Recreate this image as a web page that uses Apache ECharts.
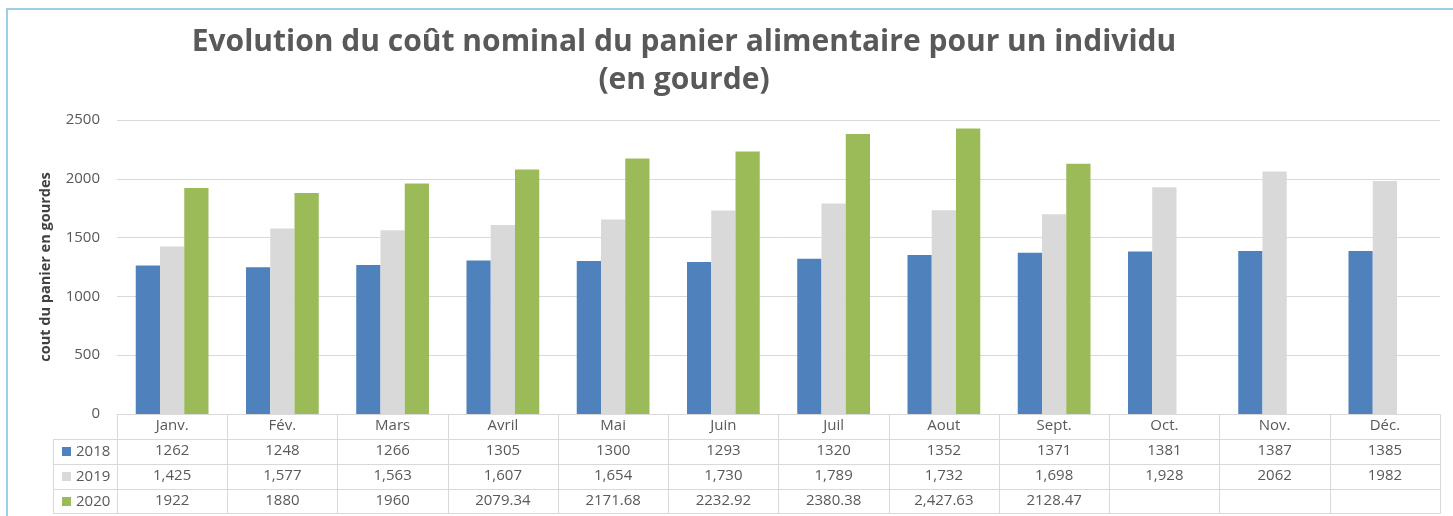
<!DOCTYPE html>
<html>
<head>
<meta charset="utf-8">
<script src="https://cdn.jsdelivr.net/npm/echarts@6/dist/echarts.min.js"></script>
<style>
  html, body { margin: 0; padding: 0; background: #fff; }
  #chart-container { width: 1453px; height: 516px; }
</style>
</head>
<body>
<div id="chart-container"></div>
<script>
var months = ['Janv.', 'Fév.', 'Mars', 'Avril', 'Mai', 'Juin', 'Juil', 'Aout', 'Sept.', 'Oct.', 'Nov.', 'Déc.'];
var years = ['2018', '2019', '2020'];
var values2018 = [1262, 1248, 1266, 1305, 1300, 1293, 1320, 1352, 1371, 1381, 1387, 1385];
var values2019 = [1425, 1577, 1563, 1607, 1654, 1730, 1789, 1732, 1698, 1928, 2062, 1982];
var values2020 = [1922, 1880, 1960, 2079.34, 2171.68, 2232.92, 2380.38, 2427.63, 2128.47, null, null, null];
// texts shown in the data table under the chart (as written in the source)
var table2018 = ['1262', '1248', '1266', '1305', '1300', '1293', '1320', '1352', '1371', '1381', '1387', '1385'];
var table2019 = ['1,425', '1,577', '1,563', '1,607', '1,654', '1,730', '1,789', '1,732', '1,698', '1,928', '2062', '1982'];
var table2020 = ['1922', '1880', '1960', '2079.34', '2171.68', '2232.92', '2380.38', '2,427.63', '2128.47', '', '', ''];

var colors = ['#4F81BD', '#D9D9D9', '#9BBB59'];
var gridCol = '#D9D9D9';
var txt = '#595959';
var font = 'Open Sans';
var rowH = 25;
var tableTop = 414;

var dom = document.getElementById('chart-container');
var myChart = echarts.init(dom, null, { renderer: 'canvas' });

// one x axis per table row, stacked under the plot with offsets
function tableAxis(data, offset, showLabel) {
  return {
    type: 'category',
    data: data,
    position: 'bottom',
    offset: offset,
    axisLine: { show: true, lineStyle: { color: gridCol, width: 1 } },
    axisTick: { show: showLabel, length: rowH, lineStyle: { color: gridCol, width: 1 } },
    axisLabel: { show: showLabel, interval: 0, margin: 4, color: txt, fontSize: 15, fontFamily: font },
    splitLine: { show: false }
  };
}

// legend column of the data table (swatch + year in each row)
var legendCells = [];
years.forEach(function (y, i) {
  var rowY = tableTop + rowH * (i + 1);
  legendCells.push({ type: 'rect', shape: { x: 62, y: rowY + 8, width: 9, height: 9 }, style: { fill: colors[i] }, silent: true });
  legendCells.push({ type: 'text', x: 76, y: rowY + 12.5, style: { text: y, fill: txt, font: '15px "' + font + '"', textVerticalAlign: 'middle' }, silent: true });
  legendCells.push({ type: 'line', shape: { x1: 53, y1: rowY + 0.5, x2: 117, y2: rowY + 0.5 }, style: { stroke: gridCol, lineWidth: 1 }, silent: true });
});
legendCells.push({ type: 'line', shape: { x1: 53, y1: tableTop + rowH * 4 - 0.5, x2: 117, y2: tableTop + rowH * 4 - 0.5 }, style: { stroke: gridCol, lineWidth: 1 }, silent: true });
legendCells.push({ type: 'line', shape: { x1: 53.5, y1: tableTop + rowH, x2: 53.5, y2: tableTop + rowH * 4 }, style: { stroke: gridCol, lineWidth: 1 }, silent: true });

var option = {
  animation: false,
  color: colors,
  title: {
    text: 'Evolution du coût nominal du panier alimentaire pour un individu\n(en gourde)',
    left: 679,
    top: 18,
    textAlign: 'center',
    textStyle: { fontSize: 30, fontWeight: 'bold', color: txt, fontFamily: font, lineHeight: 38 }
  },
  grid: { left: 117, right: 13, top: 120, bottom: 102, containLabel: false },
  xAxis: [
    tableAxis(months, 0, true),
    tableAxis(table2018, rowH, true),
    tableAxis(table2019, rowH * 2, true),
    tableAxis(table2020, rowH * 3, true),
    tableAxis(months, rowH * 4 - 1, false)
  ],
  yAxis: {
    type: 'value',
    min: 0,
    max: 2500,
    interval: 500,
    name: 'cout du panier en gourdes',
    nameLocation: 'middle',
    nameGap: 64,
    nameTextStyle: { fontSize: 14.5, fontWeight: 'bold', color: '#404040', fontFamily: font },
    axisLine: { show: false },
    axisTick: { show: false },
    axisLabel: { color: txt, fontSize: 15, fontFamily: font, margin: 17, formatter: function (v) { return String(v); } },
    splitLine: { lineStyle: { color: gridCol, width: 1 } }
  },
  series: [
    { name: '2018', type: 'bar', data: values2018, barGap: '0%', barCategoryGap: '34%' },
    { name: '2019', type: 'bar', data: values2019, barGap: '0%', barCategoryGap: '34%' },
    { name: '2020', type: 'bar', data: values2020, barGap: '0%', barCategoryGap: '34%' }
  ],
  graphic: [
    // outer frame
    { type: 'rect', shape: { x: 7, y: 9, width: 1460, height: 520 }, style: { fill: null, stroke: '#9CD0E2', lineWidth: 2 }, silent: true }
  ].concat(legendCells)
};

myChart.setOption(option);
window.addEventListener('resize', myChart.resize);
</script>
</body>
</html>
